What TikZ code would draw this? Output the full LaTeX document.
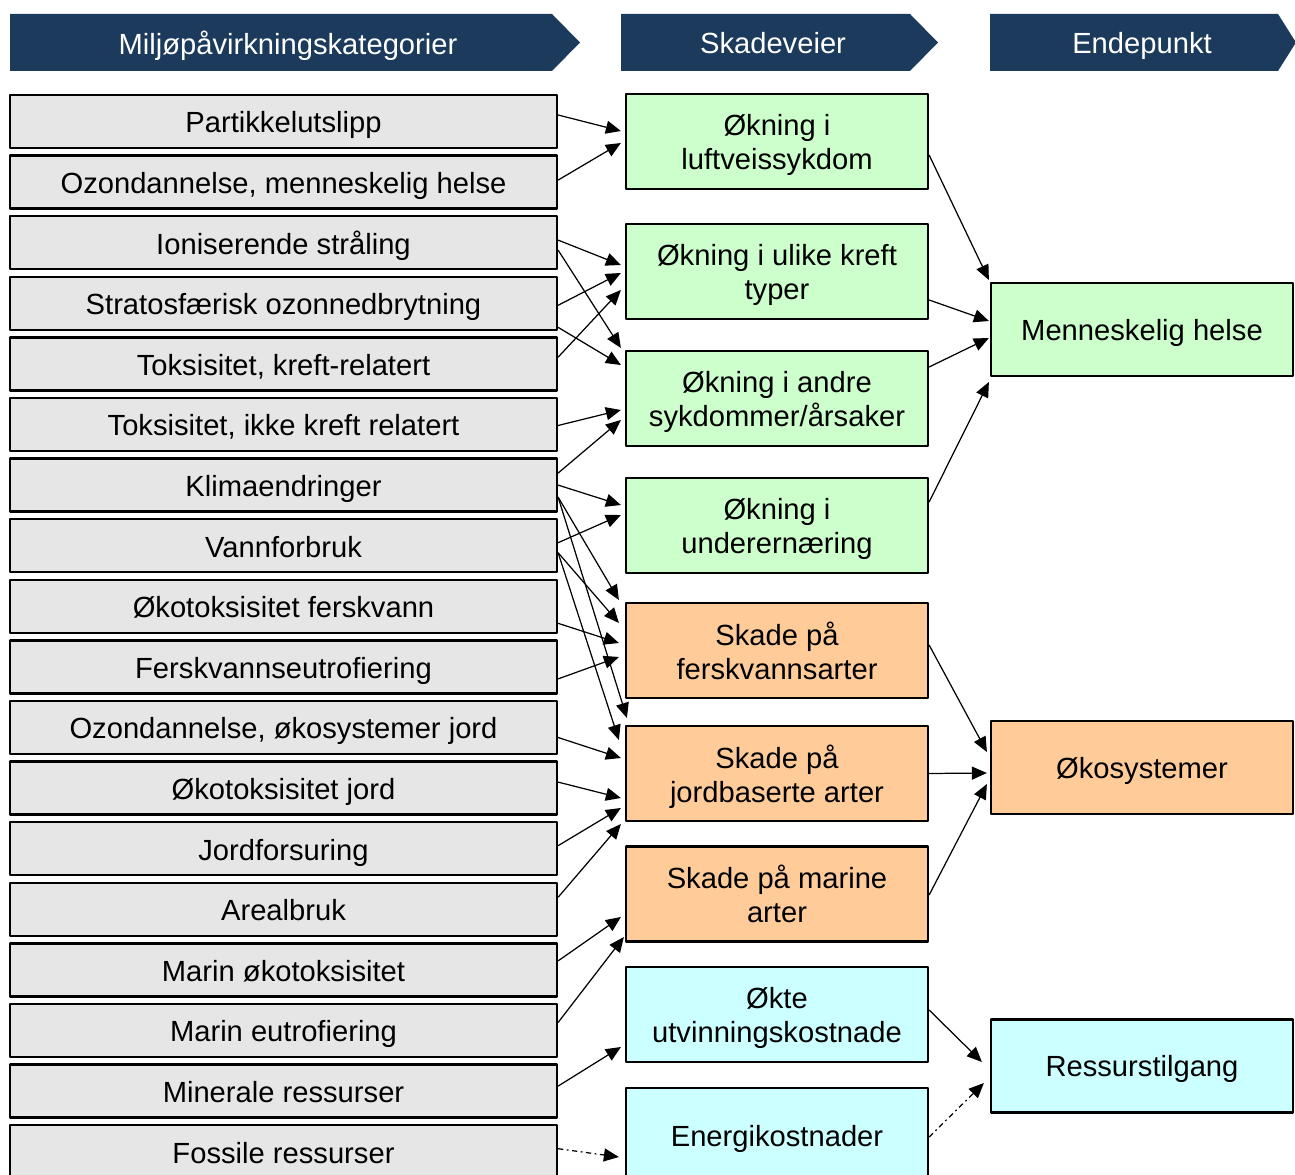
\documentclass[tikz,border=0pt]{standalone}
\usepackage{fontspec}
\setmainfont{Liberation Sans}
\usetikzlibrary{arrows.meta,calc}
\definecolor{hodenavy}{HTML}{1B3A5C}
\definecolor{graaboks}{HTML}{E6E6E6}
\definecolor{gronnboks}{HTML}{CCFFCC}
\definecolor{oransjeboks}{HTML}{FFCC99}
\definecolor{cyanboks}{HTML}{CCFFFF}
\begin{document}
\begin{tikzpicture}[x=0.02cm, y=-0.02cm, font=\fontsize{16.6}{19.4}\selectfont, line join=round,
		>={Triangle[length=0.3cm,width=0.26cm]},
		kat/.style={draw, line width=1.3pt, fill=graaboks, minimum width=10.94cm, minimum height=1.06cm, inner sep=0pt, text height=15pt, text depth=2pt},
		vei/.style={draw, line width=1.3pt, minimum width=6.04cm, minimum height=1.9cm, align=center, inner sep=0pt, text depth=0pt},
		ende/.style={draw, line width=1.3pt, minimum width=6.04cm, minimum height=1.86cm, align=center, inner sep=0pt, text depth=0pt},
		pil/.style={->, line width=0.7pt},
		stiplet/.style={pil, dash pattern=on 3pt off 2pt on 1pt off 2pt},
		hode/.style={text=white, text depth=0pt}]
	\useasboundingbox (0,0) rectangle (1295,1175);
	% overskrifter
	\fill[hodenavy] (10,14) -- (552,14) -- (580,42.5) -- (552,71) -- (10,71) -- cycle;
	\fill[hodenavy] (621,14) -- (910,14) -- (938,42.5) -- (910,71) -- (621,71) -- cycle;
	\fill[hodenavy] (990,14) -- (1278,14) -- (1296,42.5) -- (1278,71) -- (990,71) -- cycle;
	\node[hode] (h1) at (288,42.5) {Miljøpåvirkningskategorier};
	\node[hode] (h2) at (773,42.5) {Skadeveier};
	\node[hode] (h3) at (1142,42.5) {Endepunkt};
	% kategorier
	\foreach \tekst [count=\i] in {Partikkelutslipp, {Ozondannelse, menneskelig helse}, Ioniserende stråling,
		Stratosfærisk ozonnedbrytning, {Toksisitet, kreft-relatert}, {Toksisitet, ikke kreft relatert},
		Klimaendringer, Vannforbruk, Økotoksisitet ferskvann, Ferskvannseutrofiering,
		{Ozondannelse, økosystemer jord}, Økotoksisitet jord, Jordforsuring, Arealbruk,
		Marin økotoksisitet, Marin eutrofiering, Minerale ressurser, Fossile ressurser}
		\node[kat] (k\i) at (283.5,{121.5+60.6*(\i-1)}) {\tekst};
	% skadeveier
	\node[vei, fill=gronnboks] (v1) at (777,141.5) {Økning i\\luftveissykdom};
	\node[vei, fill=gronnboks] (v2) at (777,271.5) {Økning i ulike kreft\\typer};
	\node[vei, fill=gronnboks] (v3) at (777,398.5) {Økning i andre\\sykdommer/årsaker};
	\node[vei, fill=gronnboks] (v4) at (777,525.5) {Økning i\\underernæring};
	\node[vei, fill=oransjeboks] (v5) at (777,650.5) {Skade på\\ferskvannsarter};
	\node[vei, fill=oransjeboks] (v6) at (777,773.5) {Skade på\\jordbaserte arter};
	\node[vei, fill=oransjeboks] (v7) at (777,894) {Skade på marine\\arter};
	\node[vei, fill=cyanboks] (v8) at (777,1014.5) {Økte\\utvinningskostnade};
	\node[vei, fill=cyanboks] (v9) at (777,1135.5) {Energikostnader};
	% endepunkt
	\node[ende, fill=gronnboks] (e1) at (1142,329.5) {Menneskelig helse};
	\node[ende, fill=oransjeboks] (e2) at (1142,767.5) {Økosystemer};
	\node[ende, fill=cyanboks] (e3) at (1142,1066) {Ressurstilgang};
	% piler
	\foreach \fra/\fdy/\til/\tdx/\tdy in {k1/-6.5/v1/-4/-10.5, k2/-2/v1/-4/1.5, k3/-2.6/v2/-4/-6.5,
		k3/7.4/v3/-4/-50.5, k4/2/v2/-4/1.5, k4/24/v3/-4/-33.5, k5/-6.7/v2/-4/18.5, k6/1/v3/-4/11.5,
		k7/-12/v3/-4/21.5, k7/0/v4/-4/-20.5, k8/-3/v4/-4/-10.5, k7/12/v5/-6/-50.5, k8/7/v5/-6/-27.5,
		k9/17/v5/-6/-7.5, k10/12/v5/-6/6.5, k7/12/v6/2/-55.5, k8/7/v6/-6/-33.5, k11/10/v6/-4/-15.5,
		k12/-6/v6/-4/24.5, k13/-3/v6/-4/34.5, k14/-12/v6/-4/50.5, k15/-9/v7/-4/23, k16/-8/v7/-1/43,
		k17/-5/v8/-4/32.5,
		v1/13.5/e1/-1/-49.5, v2/28.5/e1/-1/-8.5, v3/-31.5/e1/-1/8.5, v4/-23.5/e1/-1/52.5,
		v5/-5.5/e2/-3/-15.5, v6/0/e2/-3/5.5, v7/1/e2/-3/16.5, v8/-4.5/e3/-8/-4}
		\draw[pil] ($(\fra.east)+(0,\fdy)$) -- ($(\til.west)+(\tdx,\tdy)$);
	\draw[stiplet] ($(k18.east)+(0,-3)$) -- ($(v9.west)+(-6,21.5)$);
	\draw[stiplet] ($(v9.east)+(0,1.5)$) -- ($(e3.west)+(-6,17)$);
\end{tikzpicture}
\end{document}
